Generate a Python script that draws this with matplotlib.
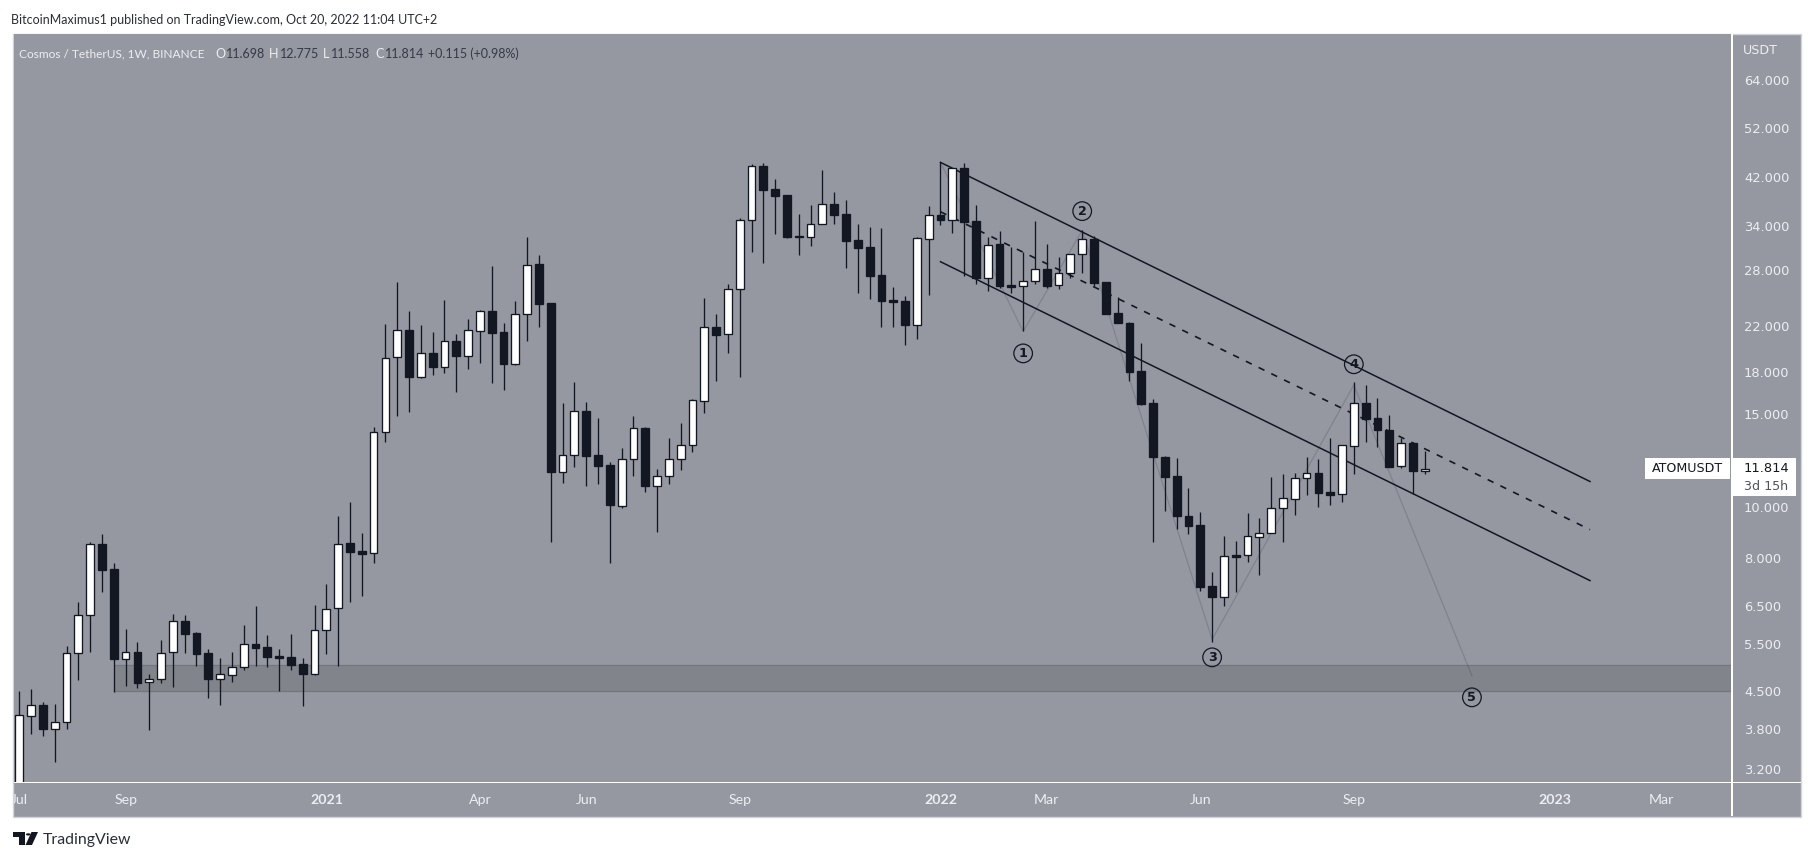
import matplotlib
matplotlib.use("Agg")
import matplotlib.pyplot as plt
from matplotlib.patches import Rectangle, Polygon, Circle
from matplotlib.transforms import Bbox

opens = [2.9,4.03,4.22,3.81,3.92,5.29,6.26,8.52,7.62,5.17,
5.33,4.67,4.74,5.33,6.09,5.77,5.29,4.74,4.81,4.98,
5.50,5.43,5.22,5.20,5.05,4.84,5.85,6.44,8.54,8.25,
8.17,13.84,19.16,21.55,17.6,19.5,18.4,20.55,19.3,21.5,
23.4,21.4,18.65,23.1,28.75,24.3,11.65,12.55,15.17,12.53,
12.0,10.05,12.3,14.1,10.95,11.45,12.33,13.1,15.88,21.9,
21.2,25.75,34.9,44.0,39.9,38.9,32.5,32.4,34.2,37.35,
35.75,31.9,30.95,27.45,24.6,24.45,22.1,32.0,35.55,34.85,
43.65,34.65,27.1,31.35,26.25,26.1,26.7,28.15,26.2,27.65,
30.0,32.05,26.55,23.25,22.3,18.05,15.7,12.42,11.45,9.61,
9.23,7.1,6.77,8.12,8.1,8.79,8.93,9.96,10.35,11.36,
11.58,10.65,10.56,13.05,15.7,14.72,13.97,11.95,13.2,11.698]

closes = [4.04,4.22,3.81,3.92,5.29,6.24,8.50,7.61,5.17,5.33,
4.66,4.74,5.31,6.09,5.75,5.28,4.73,4.83,4.98,5.50,
5.42,5.20,5.19,5.03,4.83,5.85,6.41,8.52,8.22,8.15,
13.84,19.08,21.55,17.6,19.5,18.4,20.55,19.3,21.55,23.4,
21.35,18.65,23.1,28.7,24.2,11.65,12.55,15.15,12.5,11.95,
10.1,12.3,14.07,10.95,11.45,12.3,13.12,15.9,21.85,21.15,
25.75,34.9,44.0,39.75,38.7,32.4,32.35,34.3,37.3,35.6,
31.8,30.8,27.3,24.45,24.35,22.05,32.15,35.55,34.8,43.6,
34.55,27.05,31.2,26.15,26.0,26.75,28.1,26.15,27.7,30.0,
32.0,26.45,23.15,22.25,18.0,15.65,12.4,11.4,9.6,9.2,
7.07,6.77,8.07,8.05,8.8,8.93,9.96,10.38,11.36,11.58,
10.63,10.54,13.08,15.7,14.65,13.97,11.92,13.2,11.67,11.814]

highs = [4.49,4.53,4.28,4.25,5.46,6.61,8.60,8.90,7.84,5.89,
5.56,4.83,5.61,6.28,6.25,5.81,5.39,5.18,5.32,5.99,
6.50,5.74,5.39,5.75,5.18,6.53,7.16,9.62,10.2,8.93,
14.15,22.15,26.55,23.4,22.05,21.4,24.6,21.2,22.6,23.54,
28.5,22.25,24.5,32.35,29.9,24.3,15.7,17.2,15.8,14.7,
12.15,12.9,14.85,14.15,11.8,13.5,14.4,16.0,24.8,23.13,
26.35,35.2,44.4,44.6,41.6,38.9,35.75,37.2,43.3,39.35,
38.0,34.2,33.75,33.6,26.0,25.0,32.3,37.0,44.75,43.7,
44.55,37.15,32.35,33.15,30.95,30.3,34.65,31.35,29.6,30.05,
33.3,32.55,26.55,24.9,22.4,20.4,16.0,12.5,12.35,10.85,
9.8,7.53,8.8,8.62,9.74,9.53,11.37,11.52,11.6,12.42,
12.32,13.5,13.08,17.2,17.0,16.05,14.92,13.5,13.28,12.775]

lows = [2.8,3.72,3.70,3.30,3.80,4.71,5.32,6.91,4.47,4.60,
4.55,3.79,4.65,4.57,5.30,5.00,4.36,4.23,4.68,4.92,
5.00,4.98,4.49,4.92,4.21,4.81,5.28,5.00,6.61,6.79,
7.84,13.27,14.87,15.13,17.5,17.75,17.9,16.5,18.25,18.7,
17.15,16.65,18.55,20.6,21.9,8.57,11.1,11.9,10.95,11.05,
7.85,9.97,11.45,10.67,8.98,11.05,11.74,12.7,15.05,17.3,
19.55,17.6,30.25,28.9,32.8,32.25,29.9,31.1,34.2,34.2,
28.3,25.35,24.7,21.9,21.9,20.25,20.75,25.1,34.1,32.95,
27.3,26.35,25.55,25.9,25.35,21.45,26.4,25.95,25.8,27.05,
27.65,26.15,23.15,22.25,17.3,15.55,8.6,9.83,9.08,8.9,
6.95,5.57,6.5,6.92,7.87,7.44,8.93,8.6,9.66,10.53,
10.0,10.08,10.22,11.55,13.28,13.0,11.92,11.83,10.6,11.558]

channel_x = [78, 133]
upper_channel = [44.75, 11.17]
lower_channel = [29.05, 7.26]
mid_channel = [36.1, 9.06]
wave_x = [78, 85, 90, 101, 113, 123]
wave_y = [44.75, 21.45, 33.3, 5.62, 17.0, 4.80]
wave_label_x = [85, 90, 101, 113, 123]
wave_label_y = [19.5, 36.2, 5.2, 18.6, 4.37]
wave_labels = ["1", "2", "3", "4", "5"]
zone_start = 8
zone_top = 5.03
zone_bottom = 4.49
price_ticks = [64, 52, 42, 34, 28, 22, 18, 15, 10, 8, 6.5, 5.5, 4.5, 3.8, 3.2]
date_positions = [0, 9, 26, 39, 48, 61, 78, 87, 100, 113, 130, 139]
date_labels = ["Jul", "Sep", "2021", "Apr", "Jun", "Sep", "2022", "Mar", "Jun", "Sep", "2023", "Mar"]
last_price = closes[-1]

W, H = 1814, 861
BG = "#9598a1"
DARK = "#131722"
LIGHT = "#eceef2"
FONT = ["Lato", "DejaVu Sans"]
plt.rcParams["font.family"] = FONT

fig = plt.figure(figsize=(W / 100, H / 100), dpi=100, facecolor="white")

def fx(x): return x / W
def fy(y): return 1 - y / H
def rect(x0, y0, x1, y1, **kw):
    fig.add_artist(Rectangle((fx(x0), fy(y1)), (x1 - x0) / W, (y1 - y0) / H,
                             transform=fig.transFigure, **kw))
def label(x, y, s, **kw):
    kw.setdefault("va", "center")
    kw.setdefault("ha", "left")
    return fig.text(fx(x), fy(y), s, **kw)

rect(13, 34, 1801, 816.5, facecolor=BG, edgecolor="#d1d4dc", linewidth=1.0, zorder=-5)

L, R, T, B = 13.5, 1731.5, 34, 782
ax = fig.add_axes([fx(L), fy(B), (R - L) / W, (B - T) / H])
ax.set_facecolor(BG)
ax.set_yscale("log")
ax.set_xlim((L - 19.3) / 11.81, (R - 19.3) / 11.81)
ax.set_ylim(3.024, 78.2)
for s in ax.spines.values():
    s.set_visible(False)
ax.minorticks_off()

ax.set_yticks(price_ticks)
ax.set_yticklabels([f"{p:.3f}" for p in price_ticks], fontfamily="DejaVu Sans", fontsize=9.4, color=LIGHT)
ax.yaxis.tick_right()
ax.tick_params(axis="y", which="both", length=0, pad=9)
ax.tick_params(axis="y", which="minor", labelright=False)
ax.set_xticks(date_positions)
ax.set_xticklabels(date_labels, fontsize=10.2, color=LIGHT)
ax.tick_params(axis="x", length=0, pad=9)
clip = Bbox([[13.5, 0], [W, H]])
for t, s in zip(ax.get_xticklabels(), date_labels):
    if s.startswith("20"):
        t.set_fontweight("bold")
    t.set_clip_on(True)
    t.set_clip_box(clip)

# support zone
ax.fill_between([zone_start, ax.get_xlim()[1]], zone_bottom, zone_top, facecolor="#82848c",
                edgecolor="none", zorder=1)
ax.hlines([zone_bottom, zone_top], zone_start, ax.get_xlim()[1], color="#74767e", lw=0.9, zorder=1.1)

# wave and channel
ax.plot(wave_x, wave_y, color=DARK, alpha=0.16, lw=0.9, zorder=2)
ax.plot(channel_x, upper_channel, color=DARK, lw=1.1, zorder=2.5)
ax.plot(channel_x, lower_channel, color=DARK, lw=1.1, zorder=2.5)
ax.plot(channel_x, mid_channel, color=DARK, lw=1.2, dashes=(3.9, 4.6), zorder=2.5)
for x, y, s in zip(wave_label_x, wave_label_y, wave_labels):
    ax.text(x, y, s, ha="center", va="center", fontsize=9.2, color=DARK, fontweight="bold",
            fontfamily="DejaVu Sans", zorder=2.2,
            bbox=dict(boxstyle="circle,pad=0.22", facecolor="none", edgecolor=DARK, linewidth=0.9))

# candles
idx = list(range(len(opens)))
ax.vlines(idx, lows, highs, color=DARK, lw=0.95, zorder=3)
for i, o, c in zip(idx, opens, closes):
    up = c >= o
    ax.bar(i, abs(c - o), bottom=min(o, c), width=0.66, facecolor="white" if up else DARK,
           edgecolor=DARK, linewidth=0.95, zorder=4)

# pane separators
rect(1731.2, 34, 1732.6, 816, facecolor="white", edgecolor="none", zorder=10)
rect(13.5, 781.6, 1800.5, 783, facecolor="white", edgecolor="none", zorder=10)

# header
HS = 9.0
label(11, 20, "BitcoinMaximus1 published on TradingView.com, Oct 20, 2022 11:04 UTC+2", fontsize=HS, color="#2a2e39")
hy = 53.5
label(19, hy, "Cosmos / TetherUS, 1W, BINANCE", fontsize=8.6, color=LIGHT)
for x, s in [(215.7, "O"), (269, "H"), (323, "L"), (375, "C")]:
    label(x, hy, s, fontsize=HS, color=LIGHT)
VALC = "#363a45"
for x, s in [(226, "11.698"), (280, "12.775"), (331, "11.558"), (385, "11.814"), (428, "+0.115 (+0.98%)")]:
    label(x, hy, s, fontsize=HS, color=VALC)

# price scale labels
label(1743, 50.6, "USDT", fontfamily="DejaVu Sans", fontsize=9.1, color=LIGHT)
rect(1645, 458.3, 1730, 479, facecolor="white", edgecolor="none", zorder=11)
label(1687.5, 468.5, "ATOMUSDT", ha="center", fontfamily="DejaVu Sans", fontsize=9.1, color=DARK, zorder=12)
rect(1732.5, 458.3, 1795.7, 496, facecolor="white", edgecolor="none", zorder=11)
label(1744, 468.5, f"{last_price:.3f}", fontfamily="DejaVu Sans", fontsize=9.4, color=DARK, zorder=12)
label(1744, 487, "3d 15h", fontfamily="DejaVu Sans", fontsize=9.1, color="#50535e", zorder=12)

# footer brand
fig.add_artist(Polygon([(fx(13), fy(832)), (fx(25), fy(832)), (fx(25), fy(845)), (fx(19), fy(845)),
                        (fx(19), fy(837)), (fx(13), fy(837))], closed=True, transform=fig.transFigure,
                       facecolor=DARK, edgecolor="none"))
fig.add_artist(Polygon([(fx(31.5), fy(832)), (fx(38), fy(832)), (fx(32), fy(845)), (fx(25.5), fy(845))],
                       closed=True, transform=fig.transFigure, facecolor=DARK, edgecolor="none"))
fig.add_artist(Circle((fx(28.3), fy(834.4)), 2.4 / W, transform=fig.transFigure, facecolor=DARK, edgecolor="none"))
label(43, 840, "TradingView", fontsize=11.4, color="#2a2e39")

fig.savefig("out.png", dpi=100, facecolor="white")
